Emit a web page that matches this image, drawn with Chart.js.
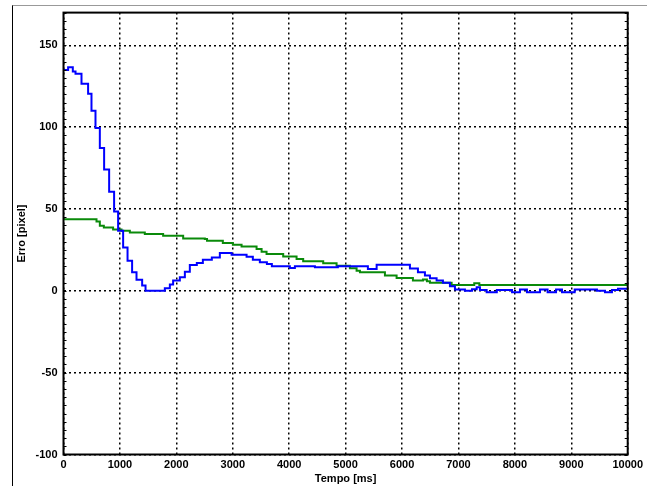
<!DOCTYPE html>
<html>
<head>
<meta charset="utf-8">
<script src="https://cdn.jsdelivr.net/npm/chart.js@4.4.0/dist/chart.umd.min.js"></script>
<style>
  body { margin: 0; background: #fff; }
  #wrap { position: relative; width: 647px; height: 486px; overflow: hidden; }
  #frame { position: absolute; left: 12px; top: 5px; width: 640px; height: 490px;
           border-left: 1px solid #000; border-top: 1px solid #999; }
  canvas { position: absolute; left: 0; top: 0; }
</style>
</head>
<body>
<div id="wrap">
  <div id="frame"></div>
  <canvas id="chart" width="647" height="486"></canvas>
</div>
<script>
// Blue series: error over time (step changes)
const blueTime = [0, 82, 165, 213, 319, 436, 496, 567, 644, 720, 809, 897, 968, 1057, 1135, 1216, 1294, 1394, 1454,
  1796, 1885, 1943, 2062, 2151, 2239, 2363, 2470, 2629, 2771, 2979, 3245, 3356, 3480, 3605, 3693, 4012, 4101, 4456, 4863,
  5395, 5550, 6140, 6282, 6406, 6495, 6613, 6725, 6849, 6938, 7115, 7240, 7323, 7381, 7500, 7680, 7950, 8090, 8214,
  8445, 8580, 8730, 8835, 9060, 9278, 9455, 9597, 9721, 9828, 10000];
const blueErr = [135, 136.6, 134, 132.6, 126.5, 120.4, 110, 99.5, 87.3, 74.2, 60.6, 48.4, 36.7, 26.5, 18.4, 11.3, 6.7, 3.2, 0,
  1.6, 3.8, 6.3, 8.3, 11.6, 15.8, 17, 19, 20.4, 23.1, 22, 20.9, 19, 17.4, 16.4, 15, 14, 15, 14.4, 15,
  13.4, 16, 13.7, 11.3, 9.3, 7.7, 6.3, 4.9, 2.8, 0.8, 0, 1, 2.2, 0.5, -0.9, 0.5, -0.9, 0.8, -0.9,
  0.8, -0.9, 0.8, -0.9, 0.8, 0.8, 0, -0.9, 0.5, 1.2, 1.2];

// Green series
const greenTime = [0, 585, 644, 715, 879, 1028, 1176, 1441, 1766, 2121, 2505, 2544, 2824, 3002, 3156, 3422, 3511, 3599,
  3894, 4131, 4248, 4603, 4840, 5076, 5195, 5254, 5697, 5904, 6193, 6371, 6441, 6495, 6879, 7280, 7370, 10000];
const greenErr = [43.8, 42.3, 39.7, 38.7, 37.5, 36.7, 35.6, 34.7, 33.6, 32, 31.6, 30.6, 29.2, 28.2, 27.1, 25.5, 23.9, 22.5,
  21, 19.5, 18, 16.8, 15.4, 13.8, 12.3, 11.3, 9.3, 7.9, 6.3, 6.9, 5.8, 4.9, 3.6, 4.6, 3.6, 3.6];

const yMin = -100, yMax = 170, yStep = 50;
const xMin = 0, xMax = 10000, xStep = 1000;
const xTitle = 'Tempo [ms]';
const yTitle = 'Erro [pixel]';

function toPoints(ts, vs) {
  return ts.map((t, i) => ({ x: t, y: vs[i] }));
}

// frame around the plot area plus small minor ticks on the y sides
const framePlugin = {
  id: 'frame',
  afterDraw(chart) {
    const { ctx, chartArea: a, scales } = chart;
    ctx.save();
    ctx.strokeStyle = '#000';
    ctx.lineWidth = 1;
    for (let v = yMin; v <= yMax; v += 5) {
      const y = Math.round(scales.y.getPixelForValue(v)) + 0.5;
      ctx.beginPath();
      ctx.moveTo(a.left, y); ctx.lineTo(a.left + 3, y);
      ctx.moveTo(a.right, y); ctx.lineTo(a.right - 3, y);
      ctx.stroke();
    }
    ctx.lineWidth = 2;
    ctx.strokeRect(a.left, a.top, a.right - a.left, a.bottom - a.top);
    ctx.restore();
  }
};

const font = { family: 'Liberation Sans', weight: 'bold', size: 11 };
const titleFont = { family: 'Liberation Sans', weight: 'bold', size: 11 };

new Chart(document.getElementById('chart'), {
  type: 'line',
  data: {
    datasets: [
      {
        data: toPoints(blueTime, blueErr),
        borderColor: '#0000ff',
        borderWidth: 2,
        pointRadius: 0,
        stepped: 'before',
        fill: false
      },
      {
        data: toPoints(greenTime, greenErr),
        borderColor: '#0a8a0a',
        borderWidth: 2,
        pointRadius: 0,
        stepped: 'before',
        fill: false
      }
    ]
  },
  options: {
    responsive: false,
    animation: false,
    events: [],
    layout: { padding: { top: 10, right: 19, left: 0, bottom: 0 } },
    plugins: { legend: { display: false }, tooltip: { enabled: false } },
    scales: {
      x: {
        type: 'linear',
        min: xMin, max: xMax,
        ticks: { stepSize: xStep, color: '#000', font: font, padding: 4, maxRotation: 0,
                 callback: v => String(v) },
        grid: { color: '#000', lineWidth: 1.5, drawTicks: false },
        border: { display: false, dash: [2, 3] },
        title: { display: true, text: xTitle, color: '#000', font: titleFont, padding: { top: 0, bottom: 0 } },
        afterFit(scale) { scale.height = 31.5; }
      },
      y: {
        min: yMin, max: yMax,
        ticks: { stepSize: yStep, color: '#000', font: font, padding: 6, callback: v => String(v) },
        afterBuildTicks(scale) { scale.ticks = scale.ticks.filter(t => t.value % yStep === 0); },
        grid: { color: '#000', lineWidth: 1.5, drawTicks: false },
        border: { display: false, dash: [2, 3] },
        title: { display: true, text: yTitle, color: '#000', font: titleFont, padding: { top: 15, bottom: 0 } },
        afterFit(scale) { scale.width = 63.5; }
      }
    }
  },
  plugins: [framePlugin]
});
</script>
</body>
</html>
